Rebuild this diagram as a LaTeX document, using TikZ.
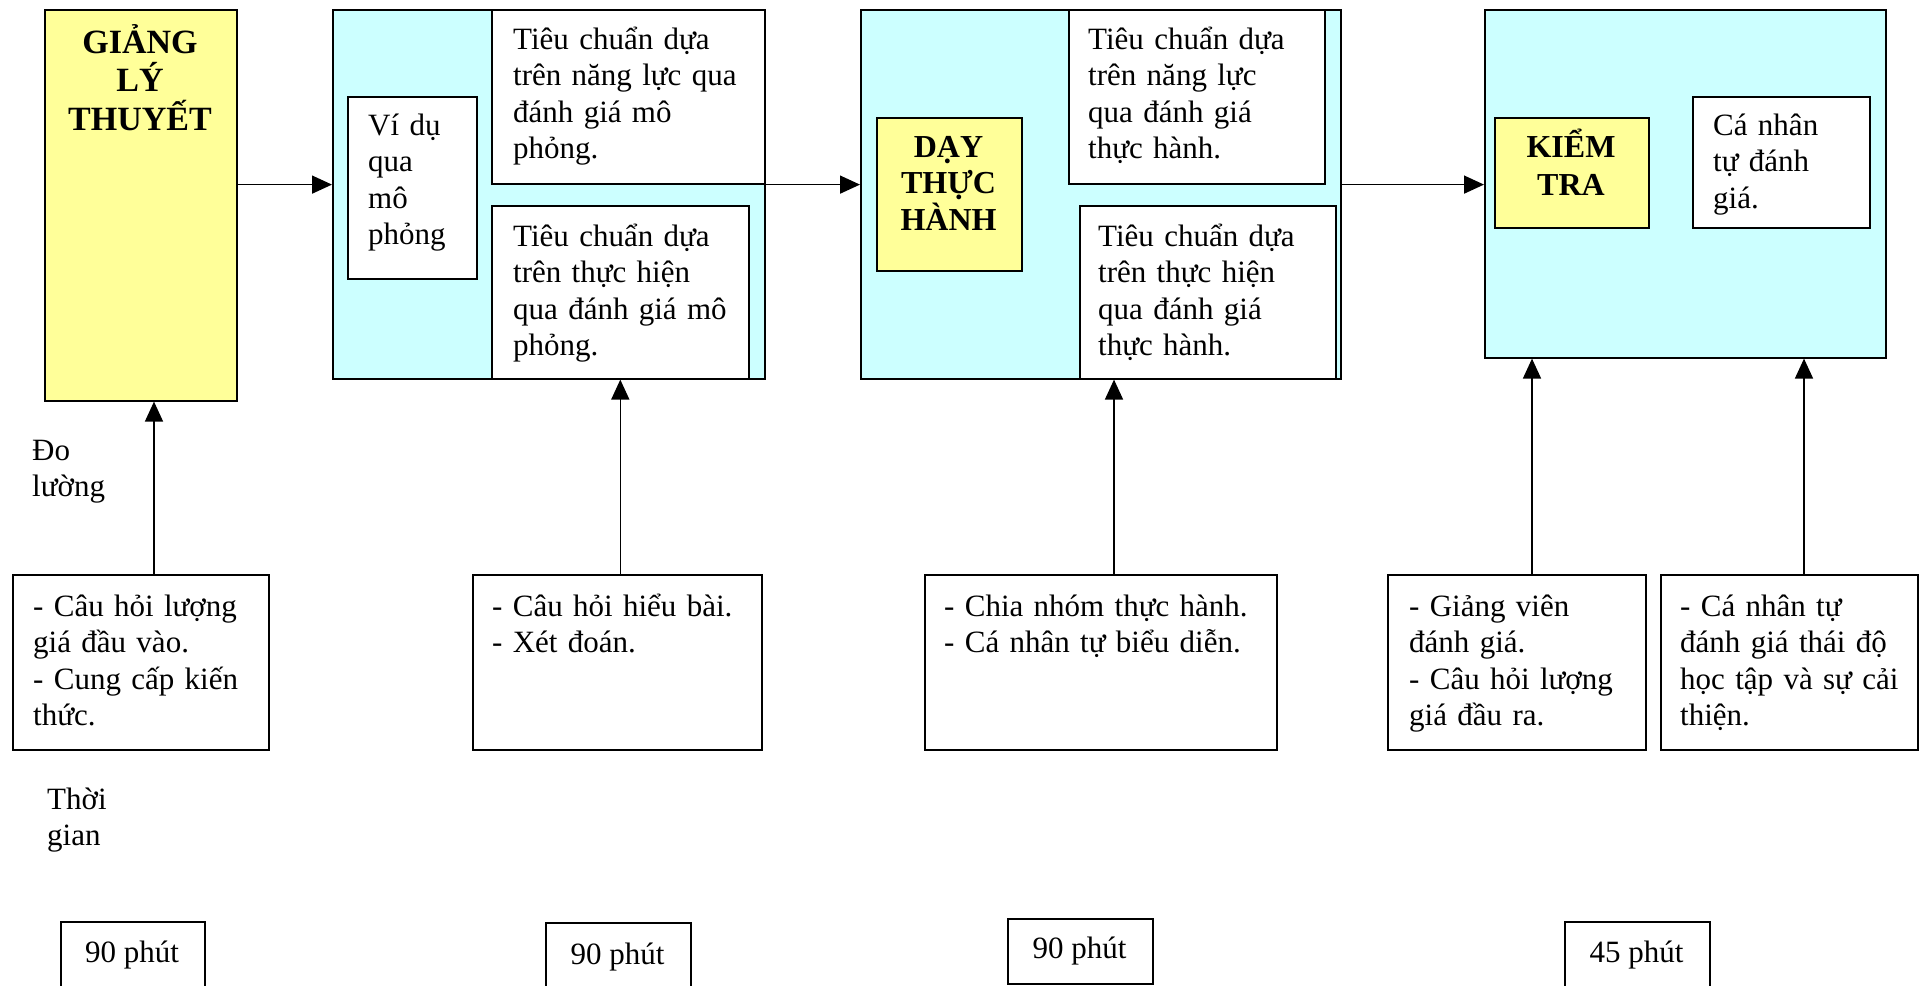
\documentclass[tikz,border=0pt]{standalone}
\usepackage{fontspec}
\setmainfont{Liberation Serif}
\usetikzlibrary{arrows.meta}

\definecolor{paleyellow}{HTML}{FFFF99}
\definecolor{palecyan}{HTML}{CCFFFF}

\begin{document}
\begin{tikzpicture}[x=1pt,y=-1pt,
  frame/.style={draw=black, line width=1.6pt, inner sep=0pt, anchor=north west},
  stage/.style={frame, fill=palecyan},
  headbox/.style={frame, fill=paleyellow},
  note/.style={frame, fill=white},
  body/.style={inner sep=0pt, anchor=base west, align=left, text width=400pt,
    font=\fontsize{31}{36.6}\selectfont},
  title/.style={inner sep=0pt, anchor=base, align=center, text width=200pt,
    font=\fontsize{32}{37}\selectfont\bfseries},
  dur/.style={inner sep=0pt, anchor=base, font=\fontsize{31}{36.6}\selectfont},
  arr/.style={line width=1.6pt, -{Triangle[length=20pt,width=18pt]}},
]
\useasboundingbox (0,0) rectangle (1926,985);
\fill[white] (0,0) rectangle (1926,985);

% ---- stage 1: theory
\node[headbox, minimum width=192pt, minimum height=391pt] (gly) at (44,9) {};
\node[title, font=\fontsize{34}{38.5}\selectfont\bfseries] (glyT) at (140,53) {GIẢNG\\LÝ\\THUYẾT};

% ---- stage 2: simulation
\node[stage, minimum width=432pt, minimum height=369pt] (sim) at (332,9) {};
\node[note, minimum width=273pt, minimum height=174pt] (simA) at (491,9) {};
\node[body] (simAT) at (513,49) {Tiêu chuẩn dựa\\trên năng lực qua\\đánh giá mô\\phỏng.};
\node[note, minimum width=257pt, minimum height=173pt] (simB) at (491,205) {};
\node[body] (simBT) at (513,246) {Tiêu chuẩn dựa\\trên thực hiện\\qua đánh giá mô\\phỏng.};
\node[note, minimum width=129pt, minimum height=182pt] (simEx) at (347,96) {};
\node[body] (simExT) at (368,135) {Ví dụ\\qua\\mô\\phỏng};

% ---- stage 3: practice
\node[stage, minimum width=480pt, minimum height=369pt] (prac) at (860,9) {};
\node[note, minimum width=256pt, minimum height=174pt] (pracA) at (1068,9) {};
\node[body] (pracAT) at (1088,49) {Tiêu chuẩn dựa\\trên năng lực\\qua đánh giá\\thực hành.};
\node[note, minimum width=256pt, minimum height=173pt] (pracB) at (1079,205) {};
\node[body] (pracBT) at (1098,246) {Tiêu chuẩn dựa\\trên thực hiện\\qua đánh giá\\thực hành.};
\node[headbox, minimum width=145pt, minimum height=153pt] (pracH) at (876,117) {};
\node[title, font=\fontsize{32}{36.5}\selectfont\bfseries] (pracHT) at (948.5,157) {DẠY\\THỰC\\HÀNH};

% ---- stage 4: testing
\node[stage, minimum width=401pt, minimum height=348pt] (test) at (1484,9) {};
\node[headbox, minimum width=154pt, minimum height=110pt] (testH) at (1494,117) {};
\node[title, font=\fontsize{32}{38}\selectfont\bfseries] (testHT) at (1571,157) {KIỂM\\TRA};
\node[note, minimum width=177pt, minimum height=131pt] (self) at (1692,96) {};
\node[body] (selfT) at (1713,135) {Cá nhân\\tự đánh\\giá.};

% ---- measurement boxes
\node[note, minimum width=256pt, minimum height=175pt] (m1) at (12,574) {};
\node[body] (m1T) at (33,616) {- Câu hỏi lượng\\giá đầu vào.\\- Cung cấp kiến\\thức.};
\node[note, minimum width=289pt, minimum height=175pt] (m2) at (472,574) {};
\node[body] (m2T) at (492,616) {- Câu hỏi hiểu bài.\\- Xét đoán.};
\node[note, minimum width=352pt, minimum height=175pt] (m3) at (924,574) {};
\node[body] (m3T) at (944,616) {- Chia nhóm thực hành.\\- Cá nhân tự biểu diễn.};
\node[note, minimum width=258pt, minimum height=175pt] (m4) at (1387,574) {};
\node[body] (m4T) at (1409,616) {- Giảng viên\\đánh giá.\\- Câu hỏi lượng\\giá đầu ra.};
\node[note, minimum width=257pt, minimum height=175pt] (m5) at (1660,574) {};
\node[body] (m5T) at (1680,616) {- Cá nhân tự\\đánh giá thái độ\\học tập và sự cải\\thiện.};

% ---- side labels
\node[body] (lblMeasure) at (32,460) {Đo\\lường};
\node[body] (lblTime) at (47,809) {Thời\\gian};

% ---- duration boxes
\node[note, minimum width=144pt, minimum height=75pt] (d1) at (60,921) {};
\node[dur] (d1T) at (132,962) {90 phút};
\node[note, minimum width=145pt, minimum height=75pt] (d2) at (545,922) {};
\node[dur] (d2T) at (617.5,964) {90 phút};
\node[note, minimum width=145pt, minimum height=65pt] (d3) at (1007,918) {};
\node[dur] (d3T) at (1079.5,958) {90 phút};
\node[note, minimum width=145pt, minimum height=75pt] (d4) at (1564,921) {};
\node[dur] (d4T) at (1636.5,962) {45 phút};

% ---- flow arrows between stages
\draw[arr] (gly.east |- simA.south) -- (sim.west |- simA.south);
\draw[arr] (sim.east |- simA.south) -- (prac.west |- simA.south);
\draw[arr] (prac.east |- pracA.south) -- (test.west |- pracA.south);

% ---- measurement arrows
\coordinate (x1) at (154,0);
\coordinate (x3) at (1114,0);
\coordinate (x4) at (1532,0);
\coordinate (x5) at (1804,0);
\draw[arr] (m1.north -| x1) -- (gly.south -| x1);
\draw[arr] (m2.north -| simB.south) -- (simB.south);
\draw[arr] (m3.north -| x3) -- (pracB.south -| x3);
\draw[arr] (m4.north -| x4) -- (test.south -| x4);
\draw[arr] (m5.north -| x5) -- (test.south -| x5);
\end{tikzpicture}
\end{document}
